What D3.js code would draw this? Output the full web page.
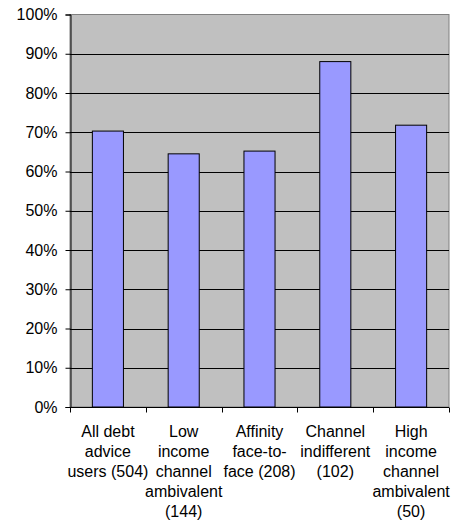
<!DOCTYPE html>
<html><head><meta charset="utf-8">
<script src="https://cdn.jsdelivr.net/npm/d3@7"></script>
<style>body{margin:0;background:#fff}svg{display:block}text{font-family:"Liberation Sans",Arial,sans-serif;font-size:16px;fill:#000}</style>
</head><body><svg id="c" width="454" height="523"></svg>
<script>
const categories = ["All debt advice users (504)","Low income channel ambivalent (144)","Affinity face-to-face (208)","Channel indifferent (102)","High income channel ambivalent (50)"];
const categoryLines = [["All debt","advice","users (504)"],["Low","income","channel","ambivalent","(144)"],["Affinity","face-to-","face (208)"],["Channel","indifferent","(102)"],["High","income","channel","ambivalent","(50)"]];
const values = [0.703, 0.645, 0.652, 0.880, 0.718];
const yTicks = [0,0.1,0.2,0.3,0.4,0.5,0.6,0.7,0.8,0.9,1.0];

const svg = d3.select("#c");
const L=70, R=449, T=14.5, B=407;
const x = d3.scaleBand().domain(categories).range([L,R]).paddingInner(0.59).paddingOuter(0.295);
const xb = d3.scaleBand().domain(categories).range([L,R]);
const y = d3.scaleLinear().domain([0,1]).range([B,T]);

svg.append("rect").attr("x",L).attr("y",T).attr("width",R-L).attr("height",B-T).attr("fill","#c0c0c0").attr("stroke","#808080").attr("stroke-width",1);
svg.append("g").selectAll("line").data(yTicks.filter(d=>d>0&&d<1)).join("line")
  .attr("x1",L).attr("x2",R).attr("y1",d=>Math.round(y(d))+0.5).attr("y2",d=>Math.round(y(d))+0.5).attr("stroke","#000").attr("stroke-width",1);

svg.append("g").selectAll("rect").data(values).join("rect")
  .attr("x",(d,i)=>x(categories[i])).attr("width",x.bandwidth())
  .attr("y",d=>y(d)).attr("height",d=>B-y(d))
  .attr("fill","#9999ff").attr("stroke","#000").attr("stroke-width",1);

const ya = d3.axisLeft(y).tickValues(yTicks).tickFormat(d3.format(".0%")).tickSize(5).tickPadding(8);
const gy = svg.append("g").attr("transform",`translate(${L+0.5},0)`).call(ya);
gy.select(".domain").attr("stroke","#000");
gy.selectAll("line").attr("stroke","#000");
gy.selectAll("text").style("font-size","16px").style("font-family","Liberation Sans, Arial, sans-serif");

const gx = svg.append("g").attr("transform",`translate(0,${B+0.5})`);
gx.append("line").attr("x1",L).attr("x2",R).attr("stroke","#000");
const bounds = categories.map(c=>xb(c)).concat([R]);
gx.selectAll("line.t").data(bounds).join("line").attr("class","t")
  .attr("x1",d=>Math.round(d)+0.5).attr("x2",d=>Math.round(d)+0.5).attr("y1",0).attr("y2",5).attr("stroke","#000");

const lab = svg.append("g");
categories.forEach((c,i)=>{
  const cx = xb(c)+xb.bandwidth()/2;
  const t = lab.append("text").attr("text-anchor","middle").attr("x",cx).attr("y",437);
  categoryLines[i].forEach((ln,j)=>{
    t.append("tspan").attr("x",cx).attr("y",437+j*20).text(ln);
  });
});
</script></body></html>
